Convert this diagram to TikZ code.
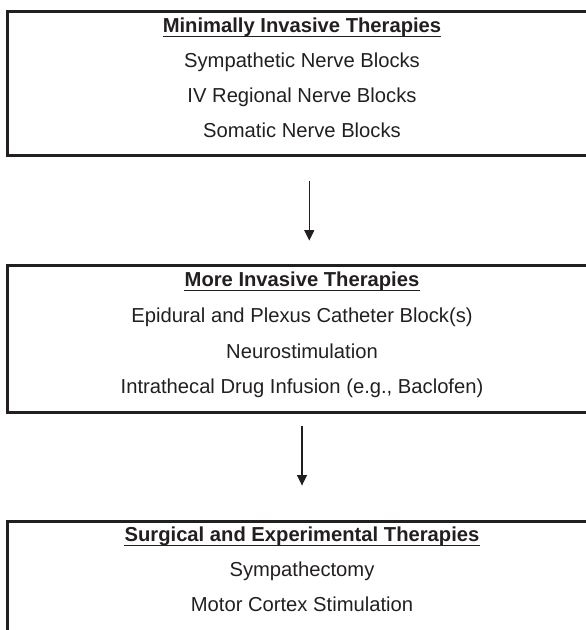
\documentclass[tikz,border=0pt]{standalone}
\usepackage{fontspec}
\setmainfont{Liberation Sans}
\usetikzlibrary{arrows.meta}
\definecolor{ink}{HTML}{231F20}
\tikzset{
  stage/.style={draw=ink, line width=3pt, minimum width=590pt, inner sep=0pt},
  item/.style={anchor=base, inner sep=0pt, text=ink, font=\fontsize{20.2}{24}\selectfont},
  heading/.style={item, font=\fontsize{20.2}{24}\selectfont\bfseries},
  underline/.style={draw=ink, line width=1.8pt},
  flow/.style={draw=ink, line width=1.2pt, -{Triangle[width=10pt,length=10.5pt]}}
}
\begin{document}
\begin{tikzpicture}[x=1pt,y=-1pt]
\useasboundingbox (0,0) rectangle (586,630);
\clip (0,0) rectangle (586,630);

% the three stages, cut off at the right and bottom edges
\node[stage, minimum height=144.3pt] (minimal) at (302,83.5) {};
\node[stage, minimum height=147pt] (invasive) at (302,338.85) {};
\node[stage, minimum height=147pt] (surgical) at (302,594.85) {};

\node[heading] (minimaltitle) at (302,32.7) {Minimally Invasive Therapies};
\node[item] (sympathetic) at (302,67.7) {Sympathetic Nerve Blocks};
\node[item] (regional) at (302,102.7) {IV Regional Nerve Blocks};
\node[item] (somatic) at (302,137.7) {Somatic Nerve Blocks};

\node[heading] (invasivetitle) at (302,286.7) {More Invasive Therapies};
\node[item] (epidural) at (302,322.6) {Epidural and Plexus Catheter Block(s)};
\node[item] (neuro) at (302,358) {Neurostimulation};
\node[item] (intrathecal) at (302,393.3) {Intrathecal Drug Infusion (e.g., Baclofen)};

\node[heading] (surgicaltitle) at (302,541.7) {Surgical and Experimental Therapies};
\node[item] (sympathectomy) at (302,576.5) {Sympathectomy};
\node[item] (motor) at (302,611.5) {Motor Cortex Stimulation};

\foreach \t in {minimaltitle,invasivetitle,surgicaltitle}
  \draw[underline] ([yshift=-3.8pt]\t.base west) -- ([yshift=-3.8pt]\t.base east);

% arrows between the stages
\draw[flow] ([xshift=7.3pt,yshift=-24.3pt]minimal.south) -- ([xshift=7.3pt,yshift=23.3pt]invasive.north);
\draw[flow] ([yshift=-12.6pt]invasive.south) -- ([yshift=34.3pt]surgical.north);
\end{tikzpicture}
\end{document}
